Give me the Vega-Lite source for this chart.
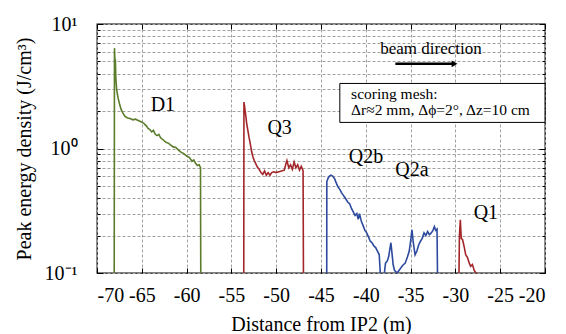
{
  "$schema": "https://vega.github.io/schema/vega-lite/v6.json",
  "width": 448,
  "height": 249,
  "autosize": "none",
  "padding": {"left": 97, "top": 24, "right": 21, "bottom": 61},
  "background": "white",
  "config": {
    "font": "Liberation Serif",
    "view": {"stroke": "black", "strokeWidth": 1.3},
    "axis": {
      "labelFont": "Liberation Serif",
      "titleFont": "Liberation Serif",
      "labelFontSize": 20,
      "titleFontSize": 20,
      "titleFontWeight": "normal",
      "labelColor": "black",
      "titleColor": "black",
      "domainColor": "black",
      "tickColor": "black",
      "gridColor": "#a0a0a0",
      "gridDash": [3, 2],
      "gridWidth": 1
    }
  },
  "resolve": {"axis": {"x": "independent", "y": "independent"}},
  "datasets": {
    "curves": [
      {"x": -68.08, "y": 0.1, "s": "D1"},
      {"x": -68.05, "y": 6.4, "s": "D1"},
      {"x": -67.98, "y": 4.6, "s": "D1"},
      {"x": -67.95, "y": 5.2, "s": "D1"},
      {"x": -67.9, "y": 3.7, "s": "D1"},
      {"x": -67.8, "y": 2.95, "s": "D1"},
      {"x": -67.65, "y": 2.55, "s": "D1"},
      {"x": -67.5, "y": 2.3, "s": "D1"},
      {"x": -67.3, "y": 2.05, "s": "D1"},
      {"x": -67.1, "y": 1.92, "s": "D1"},
      {"x": -66.9, "y": 1.82, "s": "D1"},
      {"x": -66.6, "y": 1.76, "s": "D1"},
      {"x": -66.3, "y": 1.74, "s": "D1"},
      {"x": -66.0, "y": 1.7, "s": "D1"},
      {"x": -65.7, "y": 1.72, "s": "D1"},
      {"x": -65.4, "y": 1.68, "s": "D1"},
      {"x": -65.1, "y": 1.64, "s": "D1"},
      {"x": -64.8, "y": 1.6, "s": "D1"},
      {"x": -64.5, "y": 1.52, "s": "D1"},
      {"x": -64.3, "y": 1.45, "s": "D1"},
      {"x": -64.1, "y": 1.42, "s": "D1"},
      {"x": -63.9, "y": 1.36, "s": "D1"},
      {"x": -63.7, "y": 1.4, "s": "D1"},
      {"x": -63.5, "y": 1.3, "s": "D1"},
      {"x": -63.3, "y": 1.27, "s": "D1"},
      {"x": -63.1, "y": 1.3, "s": "D1"},
      {"x": -62.9, "y": 1.22, "s": "D1"},
      {"x": -62.6, "y": 1.17, "s": "D1"},
      {"x": -62.3, "y": 1.12, "s": "D1"},
      {"x": -62.0, "y": 1.1, "s": "D1"},
      {"x": -61.8, "y": 1.07, "s": "D1"},
      {"x": -61.5, "y": 1.03, "s": "D1"},
      {"x": -61.2, "y": 1.02, "s": "D1"},
      {"x": -60.9, "y": 0.97, "s": "D1"},
      {"x": -60.6, "y": 0.93, "s": "D1"},
      {"x": -60.3, "y": 0.91, "s": "D1"},
      {"x": -60.0, "y": 0.87, "s": "D1"},
      {"x": -59.7, "y": 0.85, "s": "D1"},
      {"x": -59.4, "y": 0.79, "s": "D1"},
      {"x": -59.2, "y": 0.81, "s": "D1"},
      {"x": -59.0, "y": 0.76, "s": "D1"},
      {"x": -58.8, "y": 0.73, "s": "D1"},
      {"x": -58.6, "y": 0.74, "s": "D1"},
      {"x": -58.45, "y": 0.7, "s": "D1"},
      {"x": -58.42, "y": 0.1, "s": "D1"},

      {"x": -53.62, "y": 0.1, "s": "Q3"},
      {"x": -53.6, "y": 2.36, "s": "Q3"},
      {"x": -53.5, "y": 2.1, "s": "Q3"},
      {"x": -53.4, "y": 1.85, "s": "Q3"},
      {"x": -53.3, "y": 1.6, "s": "Q3"},
      {"x": -53.2, "y": 1.45, "s": "Q3"},
      {"x": -53.05, "y": 1.25, "s": "Q3"},
      {"x": -52.9, "y": 1.1, "s": "Q3"},
      {"x": -52.75, "y": 0.95, "s": "Q3"},
      {"x": -52.6, "y": 0.86, "s": "Q3"},
      {"x": -52.45, "y": 0.8, "s": "Q3"},
      {"x": -52.3, "y": 0.76, "s": "Q3"},
      {"x": -52.1, "y": 0.71, "s": "Q3"},
      {"x": -51.9, "y": 0.68, "s": "Q3"},
      {"x": -51.7, "y": 0.64, "s": "Q3"},
      {"x": -51.5, "y": 0.62, "s": "Q3"},
      {"x": -51.3, "y": 0.66, "s": "Q3"},
      {"x": -51.1, "y": 0.61, "s": "Q3"},
      {"x": -50.9, "y": 0.64, "s": "Q3"},
      {"x": -50.7, "y": 0.61, "s": "Q3"},
      {"x": -50.5, "y": 0.64, "s": "Q3"},
      {"x": -50.3, "y": 0.65, "s": "Q3"},
      {"x": -50.0, "y": 0.64, "s": "Q3"},
      {"x": -49.7, "y": 0.65, "s": "Q3"},
      {"x": -49.4, "y": 0.66, "s": "Q3"},
      {"x": -49.1, "y": 0.67, "s": "Q3"},
      {"x": -48.9, "y": 0.76, "s": "Q3"},
      {"x": -48.8, "y": 0.8, "s": "Q3"},
      {"x": -48.6, "y": 0.7, "s": "Q3"},
      {"x": -48.4, "y": 0.74, "s": "Q3"},
      {"x": -48.2, "y": 0.68, "s": "Q3"},
      {"x": -48.0, "y": 0.78, "s": "Q3"},
      {"x": -47.8, "y": 0.7, "s": "Q3"},
      {"x": -47.6, "y": 0.74, "s": "Q3"},
      {"x": -47.4, "y": 0.67, "s": "Q3"},
      {"x": -47.2, "y": 0.72, "s": "Q3"},
      {"x": -47.0, "y": 0.66, "s": "Q3"},
      {"x": -46.96, "y": 0.1, "s": "Q3"},

      {"x": -44.36, "y": 0.1, "s": "Q2"},
      {"x": -44.35, "y": 0.54, "s": "Q2"},
      {"x": -44.2, "y": 0.58, "s": "Q2"},
      {"x": -44.05, "y": 0.6, "s": "Q2"},
      {"x": -43.9, "y": 0.61, "s": "Q2"},
      {"x": -43.7, "y": 0.6, "s": "Q2"},
      {"x": -43.5, "y": 0.575, "s": "Q2"},
      {"x": -43.3, "y": 0.53, "s": "Q2"},
      {"x": -43.1, "y": 0.49, "s": "Q2"},
      {"x": -42.9, "y": 0.47, "s": "Q2"},
      {"x": -42.7, "y": 0.44, "s": "Q2"},
      {"x": -42.5, "y": 0.42, "s": "Q2"},
      {"x": -42.3, "y": 0.4, "s": "Q2"},
      {"x": -42.0, "y": 0.37, "s": "Q2"},
      {"x": -41.8, "y": 0.36, "s": "Q2"},
      {"x": -41.6, "y": 0.33, "s": "Q2"},
      {"x": -41.4, "y": 0.31, "s": "Q2"},
      {"x": -41.2, "y": 0.29, "s": "Q2"},
      {"x": -41.0, "y": 0.3, "s": "Q2"},
      {"x": -40.85, "y": 0.27, "s": "Q2"},
      {"x": -40.7, "y": 0.3, "s": "Q2"},
      {"x": -40.5, "y": 0.26, "s": "Q2"},
      {"x": -40.3, "y": 0.24, "s": "Q2"},
      {"x": -40.1, "y": 0.22, "s": "Q2"},
      {"x": -39.9, "y": 0.21, "s": "Q2"},
      {"x": -39.7, "y": 0.195, "s": "Q2"},
      {"x": -39.5, "y": 0.18, "s": "Q2"},
      {"x": -39.3, "y": 0.175, "s": "Q2"},
      {"x": -39.1, "y": 0.165, "s": "Q2"},
      {"x": -38.9, "y": 0.16, "s": "Q2"},
      {"x": -38.7, "y": 0.15, "s": "Q2"},
      {"x": -38.5, "y": 0.14, "s": "Q2"},
      {"x": -38.35, "y": 0.09, "s": "Q2"},
      {"x": -38.0, "y": 0.09, "s": "Q2"},
      {"x": -37.8, "y": 0.12, "s": "Q2"},
      {"x": -37.6, "y": 0.125, "s": "Q2"},
      {"x": -37.45, "y": 0.135, "s": "Q2"},
      {"x": -37.35, "y": 0.15, "s": "Q2"},
      {"x": -37.2, "y": 0.175, "s": "Q2"},
      {"x": -37.1, "y": 0.15, "s": "Q2"},
      {"x": -36.95, "y": 0.117, "s": "Q2"},
      {"x": -36.8, "y": 0.105, "s": "Q2"},
      {"x": -36.5, "y": 0.1, "s": "Q2"},
      {"x": -36.2, "y": 0.107, "s": "Q2"},
      {"x": -35.9, "y": 0.115, "s": "Q2"},
      {"x": -35.6, "y": 0.12, "s": "Q2"},
      {"x": -35.35, "y": 0.135, "s": "Q2"},
      {"x": -35.15, "y": 0.15, "s": "Q2"},
      {"x": -35.0, "y": 0.18, "s": "Q2"},
      {"x": -34.85, "y": 0.222, "s": "Q2"},
      {"x": -34.7, "y": 0.175, "s": "Q2"},
      {"x": -34.5, "y": 0.14, "s": "Q2"},
      {"x": -34.3, "y": 0.15, "s": "Q2"},
      {"x": -34.1, "y": 0.168, "s": "Q2"},
      {"x": -33.9, "y": 0.18, "s": "Q2"},
      {"x": -33.7, "y": 0.19, "s": "Q2"},
      {"x": -33.5, "y": 0.21, "s": "Q2"},
      {"x": -33.3, "y": 0.2, "s": "Q2"},
      {"x": -33.1, "y": 0.215, "s": "Q2"},
      {"x": -32.9, "y": 0.203, "s": "Q2"},
      {"x": -32.7, "y": 0.21, "s": "Q2"},
      {"x": -32.5, "y": 0.22, "s": "Q2"},
      {"x": -32.35, "y": 0.236, "s": "Q2"},
      {"x": -32.2, "y": 0.22, "s": "Q2"},
      {"x": -32.05, "y": 0.225, "s": "Q2"},
      {"x": -32.0, "y": 0.1, "s": "Q2"},

      {"x": -29.6, "y": 0.1, "s": "Q1"},
      {"x": -29.55, "y": 0.2, "s": "Q1"},
      {"x": -29.45, "y": 0.267, "s": "Q1"},
      {"x": -29.35, "y": 0.19, "s": "Q1"},
      {"x": -29.2, "y": 0.185, "s": "Q1"},
      {"x": -29.0, "y": 0.16, "s": "Q1"},
      {"x": -28.85, "y": 0.14, "s": "Q1"},
      {"x": -28.65, "y": 0.133, "s": "Q1"},
      {"x": -28.45, "y": 0.12, "s": "Q1"},
      {"x": -28.3, "y": 0.113, "s": "Q1"},
      {"x": -28.1, "y": 0.117, "s": "Q1"},
      {"x": -27.9, "y": 0.105, "s": "Q1"},
      {"x": -27.7, "y": 0.1, "s": "Q1"},
      {"x": -27.5, "y": 0.095, "s": "Q1"}
    ],
    "labels": [
      {"x": -62.65, "y": 2.22, "t": "D1"},
      {"x": -49.62, "y": 1.45, "t": "Q3"},
      {"x": -39.97, "y": 0.857, "t": "Q2b"},
      {"x": -34.86, "y": 0.67, "t": "Q2a"},
      {"x": -26.6, "y": 0.302, "t": "Q1"}
    ],
    "box": [
      {"x": -42.9, "x2": -20.0, "y": 1.62, "y2": 3.33}
    ],
    "boxtext": [
      {"x": -41.64, "y": 2.75, "t": "scoring mesh:"},
      {"x": -41.64, "y": 2.02, "t": "Δr≈2 mm, Δϕ=2°, Δz=10 cm"}
    ],
    "beam": [
      {"x": -32.73, "y": 6.35, "t": "beam direction"}
    ],
    "arrow": [
      {"x": -36.7, "x2": -30.3, "y": 4.79}
    ],
    "arrowhead": [
      {"x": -30.1, "y": 4.79}
    ]
  },
  "layer": [
    {
      "data": {"name": "curves"},
      "mark": {"type": "line", "strokeWidth": 1.6, "clip": true},
      "encoding": {
        "x": {
          "field": "x", "type": "quantitative",
          "scale": {"domain": [-70, -20], "nice": false, "zero": false},
          "axis": {
            "orient": "bottom",
            "title": "Distance from IP2 (m)",
            "values": [-70, -65, -60, -55, -50, -45, -40, -35, -30, -25, -20],
            "labelExpr": "datum.value + ''",
            "tickSize": -5,
            "labelPadding": 17,
            "titlePadding": 9,
            "domain": false,
            "grid": true
          }
        },
        "y": {
          "field": "y", "type": "quantitative",
          "scale": {"type": "log", "domain": [0.1, 10], "nice": false},
          "axis": {
            "orient": "left",
            "title": "Peak energy density (J/cm³)",
            "values": [0.1, 0.2, 0.3, 0.4, 0.5, 0.6, 0.7, 0.8, 0.9, 1, 2, 3, 4, 5, 6, 7, 8, 9, 10],
            "labelExpr": "abs(datum.value - 10) < 1e-6 ? '10¹' : abs(datum.value - 1) < 1e-6 ? '10⁰' : abs(datum.value - 0.1) < 1e-6 ? '10⁻¹' : ''",
            "tickSize": {"condition": {"test": "abs(log(datum.value)/LN10 - round(log(datum.value)/LN10)) < 1e-6", "value": -6}, "value": -3},
            "labelPadding": 26,
            "titlePadding": 10,
            "domain": false,
            "grid": true
          }
        },
        "color": {
          "field": "s", "type": "nominal",
          "scale": {"domain": ["D1", "Q3", "Q2", "Q1"], "range": ["#5b7d2b", "#a3262a", "#2d4a9e", "#a3262a"]},
          "legend": null
        }
      }
    },
    {
      "data": {"name": "labels"},
      "mark": {"type": "text", "fontSize": 20, "font": "Liberation Serif", "color": "black"},
      "encoding": {
        "x": {"field": "x", "type": "quantitative", "axis": null},
        "y": {"field": "y", "type": "quantitative", "axis": null},
        "text": {"field": "t"}
      }
    },
    {
      "data": {"name": "box"},
      "mark": {"type": "rect", "fill": "white", "stroke": "black", "strokeWidth": 1},
      "encoding": {
        "x": {"field": "x", "type": "quantitative",
          "axis": {"orient": "top", "title": null, "labels": false, "grid": false, "domain": false, "tickSize": -5,
                   "values": [-70, -65, -60, -55, -50, -45, -40, -35, -30, -25, -20]}},
        "x2": {"field": "x2"},
        "y": {"field": "y", "type": "quantitative",
          "axis": {"orient": "right", "title": null, "labels": false, "grid": false, "domain": false,
                   "values": [0.1, 0.2, 0.3, 0.4, 0.5, 0.6, 0.7, 0.8, 0.9, 1, 2, 3, 4, 5, 6, 7, 8, 9, 10],
                   "tickSize": {"condition": {"test": "abs(log(datum.value)/LN10 - round(log(datum.value)/LN10)) < 1e-6", "value": -6}, "value": -3}}},
        "y2": {"field": "y2"}
      }
    },
    {
      "data": {"name": "boxtext"},
      "mark": {"type": "text", "fontSize": 15.5, "font": "Liberation Serif", "align": "left", "color": "black"},
      "encoding": {
        "x": {"field": "x", "type": "quantitative", "axis": null},
        "y": {"field": "y", "type": "quantitative", "axis": null},
        "text": {"field": "t"}
      }
    },
    {
      "data": {"name": "beam"},
      "mark": {"type": "text", "fontSize": 17, "font": "Liberation Serif", "color": "black"},
      "encoding": {
        "x": {"field": "x", "type": "quantitative", "axis": null},
        "y": {"field": "y", "type": "quantitative", "axis": null},
        "text": {"field": "t"}
      }
    },
    {
      "data": {"name": "arrow"},
      "mark": {"type": "rule", "strokeWidth": 2.5, "color": "black"},
      "encoding": {
        "x": {"field": "x", "type": "quantitative", "axis": null},
        "x2": {"field": "x2"},
        "y": {"field": "y", "type": "quantitative", "axis": null}
      }
    },
    {
      "data": {"name": "arrowhead"},
      "mark": {"type": "point", "shape": "triangle-right", "filled": true, "size": 45, "color": "black", "opacity": 1},
      "encoding": {
        "x": {"field": "x", "type": "quantitative", "axis": null},
        "y": {"field": "y", "type": "quantitative", "axis": null}
      }
    }
  ]
}
